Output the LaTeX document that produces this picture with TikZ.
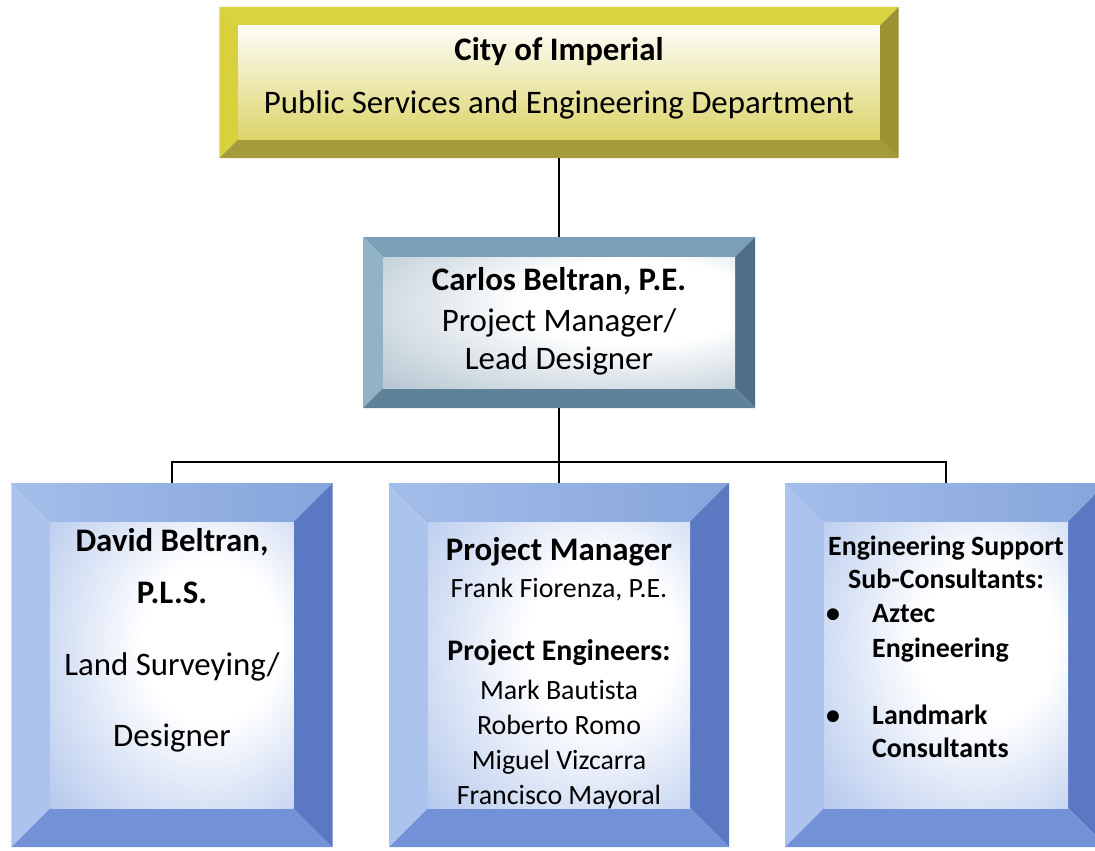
\documentclass[tikz,border=0pt]{standalone}
\usepackage{fontspec}
\setmainfont{Carlito}[Ligatures=CommonOff]
\usepackage{xcolor}
\usepackage{tikz}
\usetikzlibrary{calc,positioning}

\definecolor{bluetopl}{HTML}{A4BEEA}
\definecolor{bluetopr}{HTML}{86A4DC}
\definecolor{blueleft}{HTML}{ABC3ED}
\definecolor{blueright}{HTML}{5A79C2}
\definecolor{bluebottom}{HTML}{7391D6}
\definecolor{blueface}{HTML}{A0B9E7}
\definecolor{steeltop}{HTML}{79A0B7}
\definecolor{steelleft}{HTML}{92B2C6}
\definecolor{steelright}{HTML}{4E6F87}
\definecolor{steelbottom}{HTML}{5F8299}
\definecolor{steelface}{HTML}{9CB3C2}
\definecolor{goldtop}{HTML}{D9D340}
\definecolor{goldleft}{HTML}{D7D13C}
\definecolor{goldright}{HTML}{9B9333}
\definecolor{goldbottom}{HTML}{A49C3C}
\definecolor{goldface}{HTML}{DCD46A}

\pgfdeclareradialshading{bluefacing}{\pgfpoint{10bp}{5bp}}{color(0bp)=(white); color(14bp)=(white); color(48bp)=(blueface); color(75bp)=(blueface)}
\pgfdeclareradialshading{steelfacing}{\pgfpoint{14bp}{10bp}}{color(0bp)=(white); color(16bp)=(white); color(52bp)=(steelface); color(75bp)=(steelface)}

% bevelled frame round a node: name, bevel, top, left, right, bottom, face
\newcommand{\bevelbox}[7]{%
  \fill[#3] (#1.north west) -- (#1.north east) -- ($(#1.north east)+(-#2,#2)$) -- ($(#1.north west)+(#2,#2)$) -- cycle;
  \fill[#4] (#1.north west) -- ($(#1.north west)+(#2,#2)$) -- ($(#1.south west)+(#2,-#2)$) -- (#1.south west) -- cycle;
  \fill[#5] (#1.north east) -- (#1.south east) -- ($(#1.south east)+(-#2,-#2)$) -- ($(#1.north east)+(-#2,#2)$) -- cycle;
  \fill[#6] (#1.south west) -- ($(#1.south west)+(#2,-#2)$) -- ($(#1.south east)+(-#2,-#2)$) -- (#1.south east) -- cycle;
  \path[#7] ($(#1.north west)+(#2,#2)$) rectangle ($(#1.south east)+(-#2,-#2)$);
}

\begin{document}
\begin{tikzpicture}[x=1bp, y=-1bp,
    boxshape/.style={inner sep=0pt, outer sep=0pt},
    link/.style={line width=2bp, black},
    headbold/.style={font=\fontsize{33}{39}\selectfont\bfseries, anchor=base, inner sep=0pt},
    headtext/.style={font=\fontsize{33}{39}\selectfont, anchor=base, inner sep=0pt},
    midbold/.style={font=\fontsize{30}{36}\selectfont\bfseries, anchor=base, inner sep=0pt},
    bodybold/.style={font=\fontsize{28}{34}\selectfont\bfseries, anchor=base, inner sep=0pt},
    bodytext/.style={font=\fontsize{28}{34}\selectfont, anchor=base, inner sep=0pt}]
    \useasboundingbox (0,0) rectangle (1095,851);
    \clip (0,0) rectangle (1095,851);
    \fill[white] (0,0) rectangle (1095,851);

    % Boxes
    \node[boxshape, minimum width=679bp, minimum height=151bp] (city) at (559,82.5) {};
    \node[boxshape, minimum width=392bp, minimum height=171bp] (carlos) at (559,322.5) {};
    \node[boxshape, minimum width=321bp, minimum height=364bp] (david) at (172,665) {};
    \node[boxshape, minimum width=340bp, minimum height=364bp] (pm) at (559,665) {};
    \node[boxshape, minimum width=322bp, minimum height=364bp] (support) at (946,665) {};

    \bevelbox{city}{19}{goldtop}{goldleft}{goldright}{goldbottom}{top color=white!95!goldface, middle color=white, bottom color=goldface}
    \bevelbox{carlos}{20}{steeltop}{steelleft}{steelright}{steelbottom}{shading=steelfacing}
    \bevelbox{david}{39}{left color=bluetopl, right color=bluetopr}{blueleft}{blueright}{bluebottom}{shading=bluefacing}
    \bevelbox{pm}{39}{left color=bluetopl, right color=bluetopr}{blueleft}{blueright}{bluebottom}{shading=bluefacing}
    \bevelbox{support}{39}{left color=bluetopl, right color=bluetopr}{blueleft}{blueright}{bluebottom}{shading=bluefacing}

    % Connectors
    \draw[link] (city.south) -- (carlos.north);
    \draw[link] (carlos.south) -- ++(0,54) coordinate (hub);
    \draw[link] (hub) -| (david.north);
    \draw[link] (hub) -- (pm.north);
    \draw[link] (hub) -| (support.north);

    % City
    \node[headbold] (cityname) at (559,60) {City of Imperial};
    \node[headtext] (dept) at (559,113) {Public Services and Engineering Department};

    % Lead
    \node[headbold] (carlosname) at (559,290) {Carlos Beltran, P.E.};
    \node[headtext] (carlosrole) at (559,331) {Project Manager/};
    \node[headtext] (carlosrole2) at (559,369) {Lead Designer};

    % Surveying
    \node[headbold] (davidname) at (172,551) {David Beltran,};
    \node[headbold] (davidpls) at (172,603) {P.L.S.};
    \node[headtext] (davidrole) at (172,675) {Land Surveying/};
    \node[headtext] (davidrole2) at (172,746) {Designer};

    % Project team
    \node[headbold] (pmtitle) at (559,560) {Project Manager};
    \node[bodytext] (pmname) at (559,597) {Frank Fiorenza, P.E.};
    \node[midbold] (engtitle) at (559,660) {Project Engineers:};
    \foreach \who [count=\i] in {Mark Bautista, Roberto Romo, Miguel Vizcarra, Francisco Mayoral}
        \node[bodytext] (engineer\i) at (559,664+35*\i) {\who};

    % Sub-consultants
    \node[bodybold] (suptitle) at (946,555) {Engineering Support};
    \node[bodybold] (suptitle2) at (946,588) {Sub-Consultants:};
    \node[bodybold] (bulletA) at (833,622) {\textbullet};
    \node[bodybold, anchor=base west] (aztec) at (872,622) {Aztec};
    \node[bodybold, anchor=base west] (aztec2) at (872,657) {Engineering};
    \node[bodybold] (bulletB) at (833,724) {\textbullet};
    \node[bodybold, anchor=base west] (landmark) at (872,724) {Landmark};
    \node[bodybold, anchor=base west] (landmark2) at (872,757) {Consultants};
\end{tikzpicture}
\end{document}
